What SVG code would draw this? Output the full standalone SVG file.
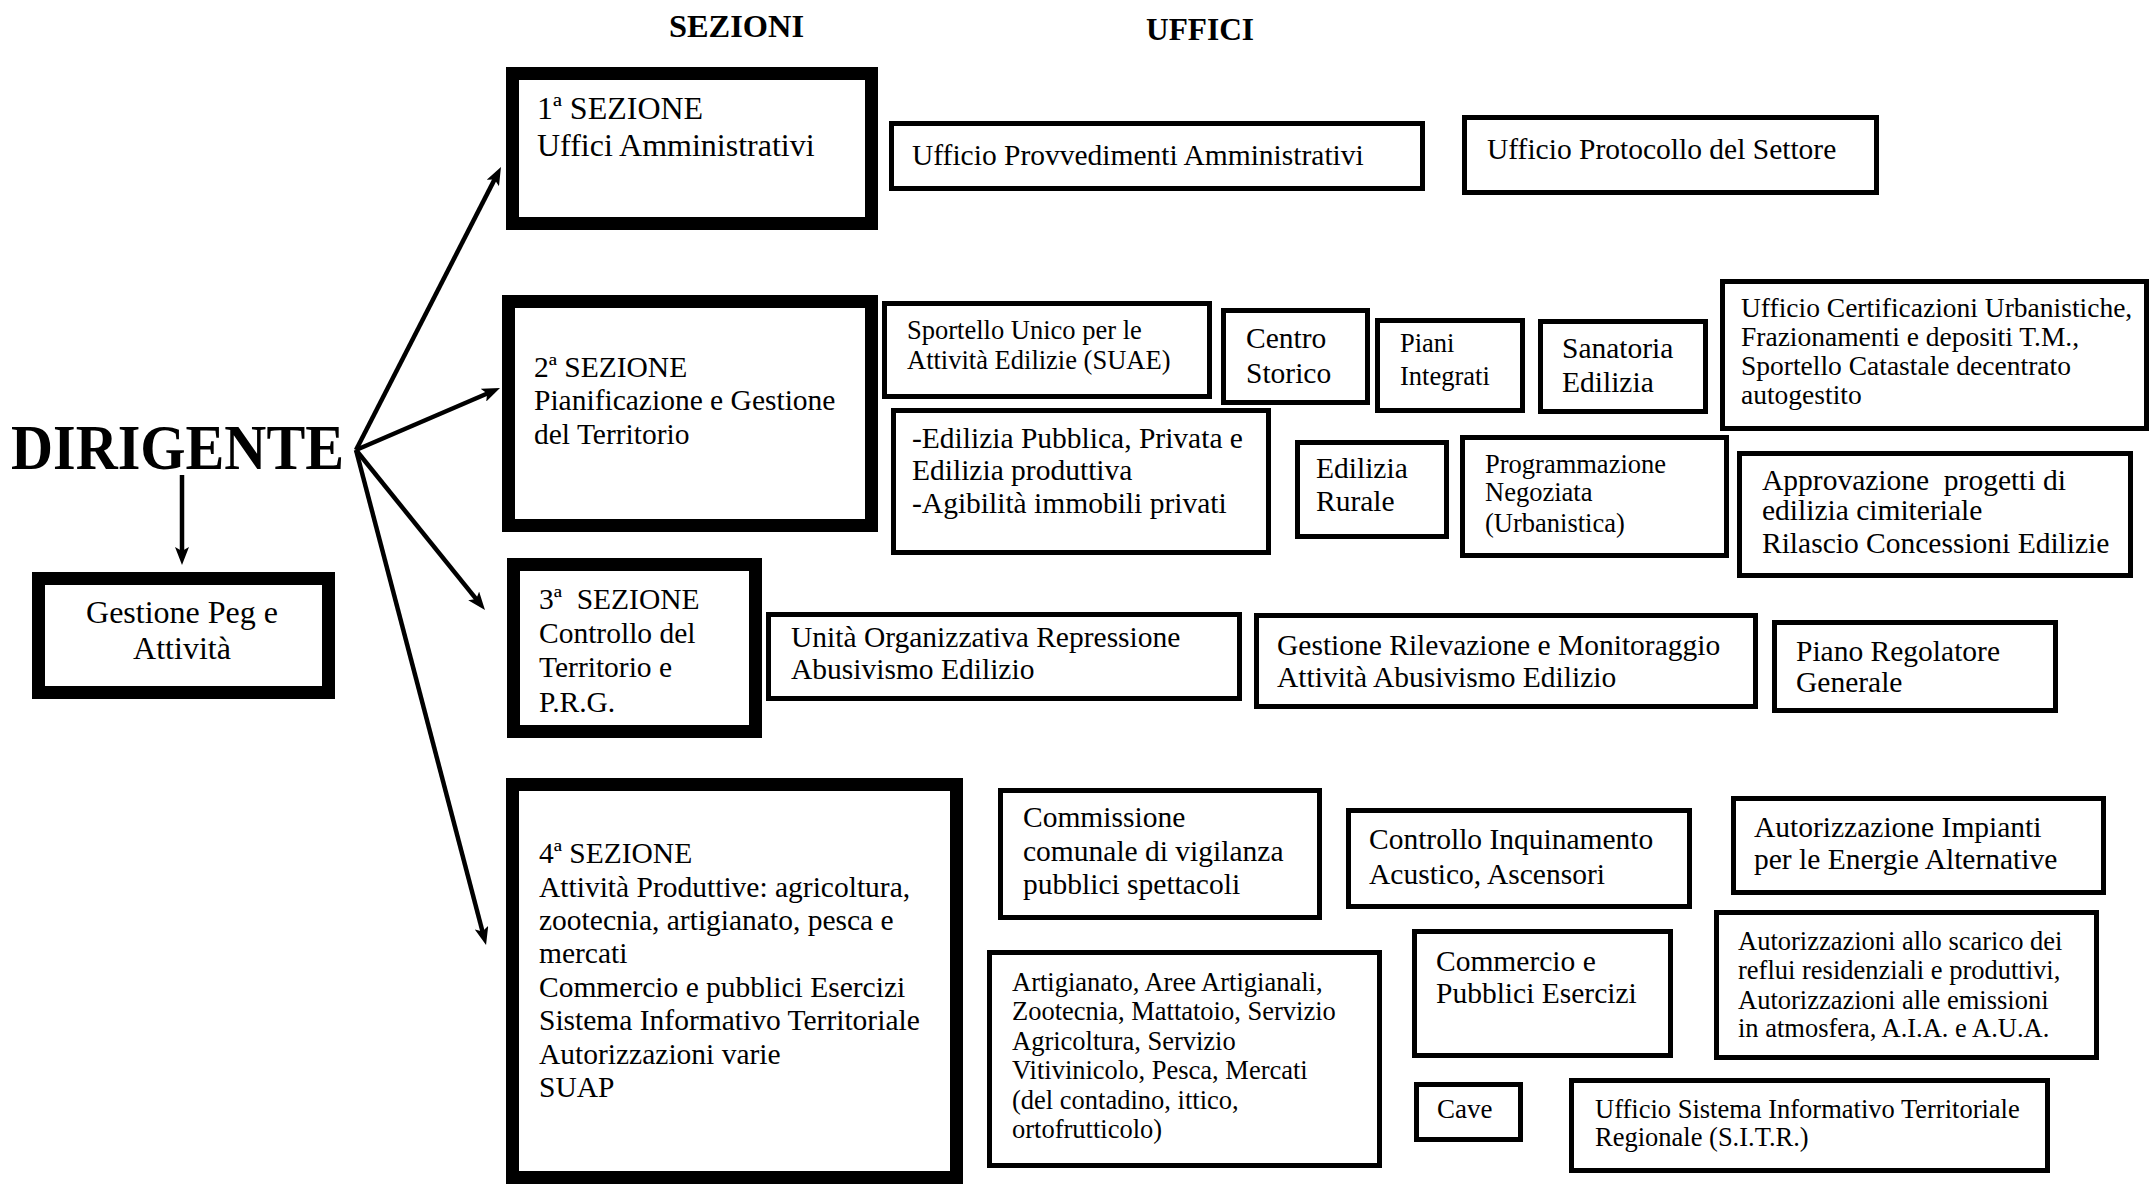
<svg xmlns="http://www.w3.org/2000/svg" width="2156" height="1184" viewBox="0 0 2156 1184">
<style>
  .bg{fill:#fff}
  .sec{fill:#fff;stroke:#000;stroke-width:13}
  .uff{fill:#fff;stroke:#000;stroke-width:5}
  text{font-family:"Liberation Serif","Times New Roman",serif;fill:#000}
  .hd{font-weight:bold;font-size:31px}
  .s30{font-size:29.5px}
  .s32{font-size:32px}
  .u29{font-size:29.5px}
  .u27{font-size:27.5px}
  .u26{font-size:26.5px}
  .conn{stroke:#000;stroke-width:4.5;fill:none}
</style>
<defs>
  <marker id="ah" viewBox="0 0 18 14" refX="8" refY="7" markerWidth="18" markerHeight="14" markerUnits="userSpaceOnUse" orient="auto">
    <path d="M0,0 L18,7 L0,14 L4,7 z" fill="#000"/>
  </marker>
</defs>
<rect class="bg" x="0" y="0" width="2156" height="1184"/>

<text class="hd" x="669" y="37" textLength="135" lengthAdjust="spacingAndGlyphs">SEZIONI</text>
<text class="hd" x="1146" y="40" textLength="108" lengthAdjust="spacingAndGlyphs">UFFICI</text>

<g id="dirigente">
  <text x="11" y="469" font-size="64" font-weight="bold" textLength="333" lengthAdjust="spacingAndGlyphs">DIRIGENTE</text>
</g>

<g id="gestione-peg">
  <rect class="sec" x="38.5" y="578.5" width="290" height="114"/>
  <text class="s32" x="182" y="623" text-anchor="middle">Gestione Peg e</text>
  <text class="s32" x="182" y="659" text-anchor="middle">Attività</text>
</g>

<g id="sezione1">
  <rect class="sec" x="512.5" y="73.5" width="359" height="150"/>
  <text class="s32" x="537" y="119">1ª SEZIONE</text>
  <text class="s32" x="537" y="156">Uffici Amministrativi</text>
</g>

<g id="sezione2">
  <rect class="sec" x="508.5" y="301.5" width="363" height="224"/>
  <text class="s30" x="534" y="377">2ª SEZIONE</text>
  <text class="s30" x="534" y="410">Pianificazione e Gestione</text>
  <text class="s30" x="534" y="444">del Territorio</text>
</g>

<g id="sezione3">
  <rect class="sec" x="513.5" y="564.5" width="242" height="167"/>
  <text class="s30" x="539" y="609" xml:space="preserve">3ª  SEZIONE</text>
  <text class="s30" x="539" y="643">Controllo del</text>
  <text class="s30" x="539" y="677">Territorio e</text>
  <text class="s30" x="539" y="712">P.R.G.</text>
</g>

<g id="sezione4">
  <rect class="sec" x="512.5" y="784.5" width="444" height="393"/>
  <text class="s30" x="539" y="863">4ª SEZIONE</text>
  <text class="s30" x="539" y="897">Attività Produttive: agricoltura,</text>
  <text class="s30" x="539" y="930">zootecnia, artigianato, pesca e</text>
  <text class="s30" x="539" y="963">mercati</text>
  <text class="s30" x="539" y="997">Commercio e pubblici Esercizi</text>
  <text class="s30" x="539" y="1030">Sistema Informativo Territoriale</text>
  <text class="s30" x="539" y="1064">Autorizzazioni varie</text>
  <text class="s30" x="539" y="1097">SUAP</text>
</g>

<g id="uff-provvedimenti">
  <rect class="uff" x="891.5" y="123.5" width="531" height="65"/>
  <text class="u29" x="912" y="165">Ufficio Provvedimenti Amministrativi</text>
</g>
<g id="uff-protocollo">
  <rect class="uff" x="1464.5" y="117.5" width="412" height="75"/>
  <text class="u29" x="1487" y="159">Ufficio Protocollo del Settore</text>
</g>

<g id="uff-suae">
  <rect class="uff" x="884.5" y="303.5" width="325" height="93"/>
  <text class="u26" x="907" y="339">Sportello Unico per le</text>
  <text class="u26" x="907" y="369">Attività Edilizie (SUAE)</text>
</g>
<g id="uff-centro-storico">
  <rect class="uff" x="1223.5" y="310.5" width="144" height="92"/>
  <text class="u29" x="1246" y="348">Centro</text>
  <text class="u29" x="1246" y="383">Storico</text>
</g>
<g id="uff-piani-integrati">
  <rect class="uff" x="1377.5" y="320.5" width="145" height="90"/>
  <text class="u26" x="1400" y="352">Piani</text>
  <text class="u26" x="1400" y="385">Integrati</text>
</g>
<g id="uff-sanatoria">
  <rect class="uff" x="1540.5" y="321.5" width="165" height="90"/>
  <text class="u29" x="1562" y="358">Sanatoria</text>
  <text class="u29" x="1562" y="392">Edilizia</text>
</g>
<g id="uff-certificazioni">
  <rect class="uff" x="1722.5" y="281.5" width="424" height="147"/>
  <text class="u27" x="1741" y="317">Ufficio Certificazioni Urbanistiche,</text>
  <text class="u27" x="1741" y="346">Frazionamenti e depositi T.M.,</text>
  <text class="u27" x="1741" y="375">Sportello Catastale decentrato</text>
  <text class="u27" x="1741" y="404">autogestito</text>
</g>
<g id="uff-edilizia-pubblica">
  <rect class="uff" x="893.5" y="410.5" width="375" height="142"/>
  <text class="u29" x="912" y="448">-Edilizia Pubblica, Privata e</text>
  <text class="u29" x="912" y="480">Edilizia produttiva</text>
  <text class="u29" x="912" y="513">-Agibilità immobili privati</text>
</g>
<g id="uff-edilizia-rurale">
  <rect class="uff" x="1297.5" y="442.5" width="149" height="94"/>
  <text class="u29" x="1316" y="478">Edilizia</text>
  <text class="u29" x="1316" y="511">Rurale</text>
</g>
<g id="uff-programmazione">
  <rect class="uff" x="1462.5" y="437.5" width="264" height="118"/>
  <text class="u26" x="1485" y="473">Programmazione</text>
  <text class="u26" x="1485" y="501">Negoziata</text>
  <text class="u26" x="1485" y="532">(Urbanistica)</text>
</g>
<g id="uff-approvazione">
  <rect class="uff" x="1739.5" y="453.5" width="391" height="122"/>
  <text class="u29" x="1762" y="490" xml:space="preserve">Approvazione  progetti di</text>
  <text class="u29" x="1762" y="520">edilizia cimiteriale</text>
  <text class="u29" x="1762" y="553">Rilascio Concessioni Edilizie</text>
</g>

<g id="uff-repressione">
  <rect class="uff" x="768.5" y="614.5" width="471" height="84"/>
  <text class="u29" x="791" y="647">Unità Organizzativa Repressione</text>
  <text class="u29" x="791" y="679">Abusivismo Edilizio</text>
</g>
<g id="uff-monitoraggio">
  <rect class="uff" x="1256.5" y="615.5" width="499" height="91"/>
  <text class="u29" x="1277" y="655">Gestione Rilevazione e Monitoraggio</text>
  <text class="u29" x="1277" y="687">Attività Abusivismo Edilizio</text>
</g>
<g id="uff-prg">
  <rect class="uff" x="1774.5" y="622.5" width="281" height="88"/>
  <text class="u29" x="1796" y="661">Piano Regolatore</text>
  <text class="u29" x="1796" y="692">Generale</text>
</g>

<g id="uff-commissione">
  <rect class="uff" x="1000.5" y="790.5" width="319" height="127"/>
  <text class="u29" x="1023" y="827">Commissione</text>
  <text class="u29" x="1023" y="861">comunale di vigilanza</text>
  <text class="u29" x="1023" y="894">pubblici spettacoli</text>
</g>
<g id="uff-inquinamento">
  <rect class="uff" x="1348.5" y="810.5" width="341" height="96"/>
  <text class="u29" x="1369" y="849">Controllo Inquinamento</text>
  <text class="u29" x="1369" y="884">Acustico, Ascensori</text>
</g>
<g id="uff-energie">
  <rect class="uff" x="1733.5" y="798.5" width="370" height="94"/>
  <text class="u29" x="1754" y="837">Autorizzazione Impianti</text>
  <text class="u29" x="1754" y="869">per le Energie Alternative</text>
</g>
<g id="uff-artigianato">
  <rect class="uff" x="989.5" y="952.5" width="390" height="213"/>
  <text class="u26" x="1012" y="991">Artigianato, Aree Artigianali,</text>
  <text class="u26" x="1012" y="1020">Zootecnia, Mattatoio, Servizio</text>
  <text class="u26" x="1012" y="1050">Agricoltura, Servizio</text>
  <text class="u26" x="1012" y="1079">Vitivinicolo, Pesca, Mercati</text>
  <text class="u26" x="1012" y="1109">(del contadino, ittico,</text>
  <text class="u26" x="1012" y="1138">ortofrutticolo)</text>
</g>
<g id="uff-commercio">
  <rect class="uff" x="1414.5" y="931.5" width="256" height="124"/>
  <text class="u29" x="1436" y="971">Commercio e</text>
  <text class="u29" x="1436" y="1003">Pubblici Esercizi</text>
</g>
<g id="uff-scarico">
  <rect class="uff" x="1716.5" y="912.5" width="380" height="145"/>
  <text class="u26" x="1738" y="950">Autorizzazioni allo scarico dei</text>
  <text class="u26" x="1738" y="979">reflui residenziali e produttivi,</text>
  <text class="u26" x="1738" y="1009">Autorizzazioni alle emissioni</text>
  <text class="u26" x="1738" y="1037">in atmosfera, A.I.A. e A.U.A.</text>
</g>
<g id="uff-cave">
  <rect class="uff" x="1416.5" y="1084.5" width="104" height="55"/>
  <text x="1437" y="1118" font-size="27">Cave</text>
</g>
<g id="uff-sitr">
  <rect class="uff" x="1571.5" y="1080.5" width="476" height="90"/>
  <text class="u26" x="1595" y="1118">Ufficio Sistema Informativo Territoriale</text>
  <text class="u26" x="1595" y="1146">Regionale (S.I.T.R.)</text>
</g>

<g id="connectors">
  <line class="conn" x1="356" y1="450" x2="496.4" y2="175.9" marker-end="url(#ah)"/>
  <line class="conn" x1="356" y1="450" x2="490.8" y2="392" marker-end="url(#ah)"/>
  <line class="conn" x1="356" y1="450" x2="478.7" y2="602.2" marker-end="url(#ah)"/>
  <line class="conn" x1="356" y1="450" x2="483.5" y2="935.3" marker-end="url(#ah)"/>
  <line class="conn" x1="182" y1="475" x2="182" y2="555" marker-end="url(#ah)"/>
</g>
</svg>
